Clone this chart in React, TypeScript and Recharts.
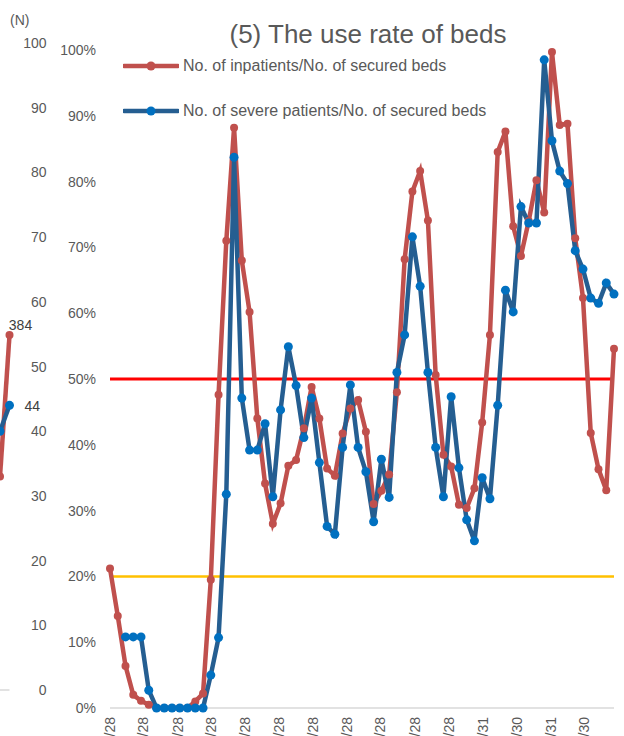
import React from 'react';
import { LineChart, Line, XAxis, YAxis, ReferenceLine, Legend, LabelList } from 'recharts';

// monthly date ticks (days counted from 4/28) and their labels
const TICK_LABELS = ['4/28', '5/28', '6/28', '7/28', '8/28', '9/28', '10/28', '11/28', '12/28', '1/28', '2/28', '3/31', '4/30', '5/31', '6/30'];
const TICK_DAYS = [0, 30, 61, 91, 122, 153, 183, 214, 244, 275, 306, 337, 367, 398, 428];

// weekly use rate (%)
const INPATIENT_RATE = [
  21.2, 14.0, 6.4, 2.0, 1.1, 0.5, 0, 0, 0, 0, 0, 1.0, 2.2, 19.5, 47.6, 71.0,
  88.2, 68.0, 60.2, 44.0, 34.1, 28.0, 31.1, 36.8, 37.7, 42.5, 48.8, 44.0, 36.4, 35.3, 41.7, 45.5,
  46.8, 42.0, 31.0, 33.0, 35.5, 48.0, 68.2, 78.5, 81.6, 74.1, 50.6, 38.5, 36.7, 30.9, 30.4, 33.4,
  43.4, 56.7, 84.5, 87.6, 73.2, 68.7, 74.0, 80.2, 75.3, 99.7, 88.6, 88.8, 71.4, 62.3, 41.8, 36.3,
  33.1, 54.6,
];
const SEVERE_RATE = [
  null, null, 10.8, 10.8, 10.8, 2.7, 0, 0, 0, 0, 0, 0, 0, 5.0, 10.7, 32.5,
  83.7, 47.1, 39.2, 39.2, 43.2, 32.1, 45.3, 54.9, 49.0, 41.1, 47.1, 37.3, 27.6, 26.4, 39.6, 49.1,
  39.6, 35.9, 28.3, 37.8, 32.0, 51.0, 56.7, 71.6, 64.1, 51.0, 39.6, 32.1, 47.3, 36.5, 28.6, 25.4,
  35.0, 31.8, 46.0, 63.5, 60.2, 76.2, 73.7, 73.7, 98.5, 86.2, 81.6, 79.7, 69.5, 66.7, 62.3, 61.5,
  64.6, 62.9,
];

// tail of the previous panel (counts)
const PREV_INPATIENTS = [231, 384];
const PREV_SEVERE = [40, 44];
const N_TICKS = [0, 10, 20, 30, 40, 50, 60, 70, 80, 90, 100];
const PCT_TICKS = [0, 10, 20, 30, 40, 50, 60, 70, 80, 90, 100];

const RED = '#C0504D';
const BLUE = '#255E91';
const BLUE_DOT = '#0070C0';
const TEXT = '#595959';
const FONT = '"Liberation Sans", Arial, sans-serif';

const data = INPATIENT_RATE.map((v, i) => ({
  day: i * 7,
  inpatients: v,
  severe: SEVERE_RATE[i],
}));

const prevData = PREV_INPATIENTS.map((v, i) => ({ inpatients: v, severe: PREV_SEVERE[i] }));

const DateTick = ({ x, y, payload }: any) => {
  const idx = TICK_DAYS.indexOf(payload.value);
  return (
    <text x={x} y={y} dy={5} transform={`rotate(-90, ${x}, ${y})`} textAnchor="end"
      fill={TEXT} fontSize={14} fontFamily={FONT}>
      {idx >= 0 ? TICK_LABELS[idx] : ''}
    </text>
  );
};

const NTick = ({ x, y, payload }: any) => (
  <text x={x + 29} y={y} dy={5} textAnchor="end" fill={TEXT} fontSize={14} fontFamily={FONT}>
    {payload.value}
  </text>
);

const LegendBox = ({ payload }: any) => (
  <div style={{ fontFamily: FONT, fontSize: 16, color: TEXT }}>
    {(payload || []).map((p: any) => {
      const dot = p.dataKey === 'severe' ? BLUE_DOT : RED;
      return (
        <div key={p.value} style={{ display: 'flex', alignItems: 'center', height: 45, whiteSpace: 'nowrap' }}>
          <svg width={56} height={12} style={{ marginRight: 4 }}>
            <line x1={1} y1={6} x2={55} y2={6} stroke={p.color} strokeWidth={4.5} strokeLinecap="round" />
            <circle cx={28} cy={6} r={4.5} fill={dot} />
          </svg>
          <span>{p.value}</span>
        </div>
      );
    })}
  </div>
);

export default function App() {
  return (
    <div style={{ position: 'fixed', left: 0, top: 0, width: 624, height: 736, overflow: 'hidden', background: '#fff' }}>
      {/* cut-off previous panel */}
      <div style={{ position: 'absolute', left: -40, top: 0 }}>
        <LineChart width={100} height={700} data={prevData} margin={{ top: 43, right: 0.5, left: 0, bottom: 10 }}>
          <XAxis hide padding={{ left: 40, right: 0 }} />
          <YAxis yAxisId="n" orientation="right" width={50} domain={[0, 100]} ticks={N_TICKS}
            axisLine={false} tickLine={false} tick={<NTick />} interval={0} />
          <YAxis yAxisId="r" hide domain={[0, 700]} />
          <ReferenceLine yAxisId="n" y={0} stroke="#D9D9D9" strokeWidth={1.5} />
          <Line yAxisId="r" dataKey="inpatients" stroke={RED} strokeWidth={4.5}
            dot={{ r: 4, fill: RED, stroke: 'none' }} isAnimationActive={false}>
            <LabelList dataKey="inpatients" content={(p: any) => p.index === 1 ? (
              <text x={p.x + 11} y={p.y - 5} textAnchor="middle" fill="#404040" fontSize={14} fontFamily={FONT}>{p.value}</text>
            ) : null} />
          </Line>
          <Line yAxisId="n" dataKey="severe" stroke={BLUE} strokeWidth={4.5}
            dot={{ r: 4.5, fill: BLUE_DOT, stroke: 'none' }} isAnimationActive={false}>
            <LabelList dataKey="severe" content={(p: any) => p.index === 1 ? (
              <text x={p.x + 15} y={p.y + 6} textAnchor="start" fill="#404040" fontSize={14} fontFamily={FONT}>{p.value}</text>
            ) : null} />
          </Line>
        </LineChart>
      </div>
      <div style={{ position: 'absolute', left: 10, top: 12, fontFamily: FONT, fontSize: 14, color: TEXT }}>(N)</div>

      {/* title */}
      <div style={{ position: 'absolute', left: 168, top: 19, width: 400, textAlign: 'center', fontFamily: FONT, fontSize: 26, color: TEXT }}>
        (5) The use rate of beds
      </div>

      <div style={{ position: 'absolute', left: 0, top: 0 }}>
        <LineChart width={624} height={800} data={data} margin={{ top: 50, right: 10, left: 0, bottom: 12 }}>
          <XAxis dataKey="day" type="number" domain={[0, 455]} ticks={TICK_DAYS} interval={0}
            axisLine={{ stroke: '#D9D9D9', strokeWidth: 1.5 }} tickLine={false} tickSize={0} tickMargin={9}
            height={80} tick={<DateTick />} />
          <YAxis domain={[0, 100]} ticks={PCT_TICKS} interval={0} width={110} axisLine={false} tickLine={false}
            tickSize={0} tickMargin={14} tickFormatter={(v: number) => `${v}%`}
            tick={{ fill: TEXT, fontSize: 14, fontFamily: FONT }} />
          <ReferenceLine y={50} stroke="#FF0000" strokeWidth={3} />
          <ReferenceLine y={20} stroke="#FFC000" strokeWidth={2.5} />
          <Legend layout="vertical" align="center" verticalAlign="middle" content={<LegendBox />}
            wrapperStyle={{ left: 123, top: 43.5, width: 'auto', height: 'auto' }} />
          <Line dataKey="inpatients" name="No. of inpatients/No. of secured beds" stroke={RED} strokeWidth={4.5}
            dot={{ r: 4, fill: RED, stroke: 'none' }} activeDot={false} isAnimationActive={false} />
          <Line dataKey="severe" name="No. of severe patients/No. of secured beds" stroke={BLUE} strokeWidth={4.5}
            dot={{ r: 4.5, fill: BLUE_DOT, stroke: 'none' }} activeDot={false} isAnimationActive={false} />
        </LineChart>
      </div>
    </div>
  );
}
